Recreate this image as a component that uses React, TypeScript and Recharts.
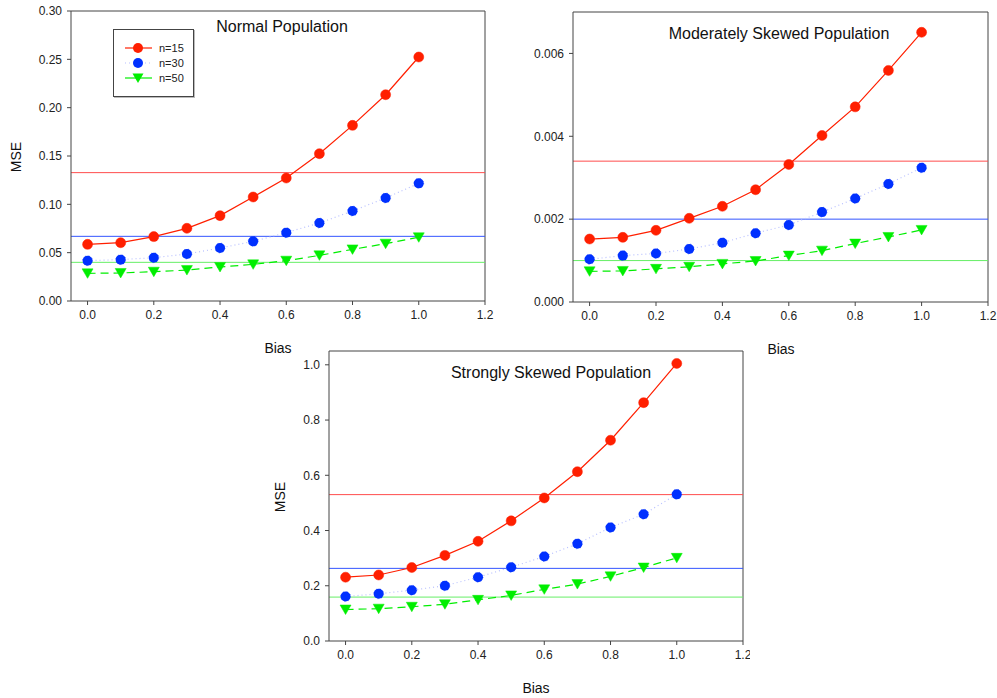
import React from 'react';
import { LineChart, Line, XAxis, YAxis, ReferenceLine } from 'recharts';

const bias = [0, 0.1, 0.2, 0.3, 0.4, 0.5, 0.6, 0.7, 0.8, 0.9, 1.0];
const xTicks = [0, 0.2, 0.4, 0.6, 0.8, 1.0, 1.2];

// Normal population
const normalN15 = [0.0586, 0.0603, 0.0666, 0.0752, 0.0883, 0.1076, 0.1272, 0.1524, 0.1817, 0.2134, 0.2524];
const normalN30 = [0.0417, 0.0428, 0.0448, 0.0486, 0.0548, 0.0617, 0.0707, 0.0807, 0.0931, 0.1066, 0.1217];
const normalN50 = [0.0286, 0.029, 0.0303, 0.032, 0.0352, 0.0379, 0.0417, 0.0472, 0.0534, 0.0593, 0.0659];
const normalRef = [0.1328, 0.0669, 0.04];
const normalTicks = [0, 0.05, 0.1, 0.15, 0.2, 0.25, 0.3];

// Moderately skewed population
const modN15 = [0.00152, 0.00156, 0.00173, 0.00202, 0.00231, 0.00271, 0.00332, 0.00402, 0.00471, 0.00559, 0.00651];
const modN30 = [0.00103, 0.00112, 0.00117, 0.00128, 0.00143, 0.00166, 0.00186, 0.00217, 0.0025, 0.00285, 0.00324];
const modN50 = [0.00074, 0.00075, 0.0008, 0.00085, 0.00092, 0.00099, 0.00112, 0.00124, 0.00141, 0.00157, 0.00174];
const modRef = [0.0034, 0.002, 0.001];
const modTicks = [0, 0.002, 0.004, 0.006];

// Strongly skewed population
const strN15 = [0.231, 0.239, 0.266, 0.31, 0.361, 0.435, 0.518, 0.613, 0.727, 0.863, 1.005];
const strN30 = [0.161, 0.171, 0.184, 0.2, 0.231, 0.267, 0.306, 0.352, 0.411, 0.459, 0.531];
const strN50 = [0.114, 0.117, 0.124, 0.133, 0.149, 0.165, 0.187, 0.206, 0.234, 0.266, 0.301];
const strRef = [0.53, 0.263, 0.159];
const strTicks = [0, 0.2, 0.4, 0.6, 0.8, 1.0];

const seriesNames = ['n=15', 'n=30', 'n=50'];

const RED = '#ff1f00';
const BLUE = '#0030ff';
const GREEN = '#00ee00';
const RED_REF = '#ff4d4d';
const BLUE_REF = '#3355ff';
const GREEN_REF = '#66ee66';
const N30_LINE = '#b8c0ff';
const FRAME = '#444';
const FONT = '"Liberation Sans", Arial, sans-serif';

const build = (a: number[], b: number[], c: number[]) =>
  bias.map((x, i) => ({ bias: x, n15: a[i], n30: b[i], n50: c[i] }));

const Tri = (props: any) => {
  const { cx, cy, index } = props;
  if (cx == null || cy == null) return null;
  return (
    <path
      key={`tri-${index}`}
      d={`M${cx - 5.5},${cy - 4.5} L${cx + 5.5},${cy - 4.5} L${cx},${cy + 5} Z`}
      fill={GREEN}
      stroke={GREEN}
      strokeWidth={0.5}
    />
  );
};

const LegendBox = () => (
  <div
    style={{
      position: 'absolute',
      left: 113,
      top: 29,
      width: 81,
      height: 68,
      border: `1px solid ${FRAME}`,
      boxShadow: '1px 1px 0 #bbb',
      background: '#fff',
      boxSizing: 'border-box',
    }}
  >
    <svg width={80} height={67} style={{ display: 'block' }}>
      <line x1={11} x2={38} y1={18} y2={18} stroke={RED} strokeWidth={1.2} />
      <circle cx={24} cy={18} r={5} fill={RED} />
      <text x={45} y={22} fontSize={11} fontFamily={FONT} fill="#222">{seriesNames[0]}</text>
      <line x1={11} x2={38} y1={33} y2={33} stroke={N30_LINE} strokeWidth={1.2} strokeDasharray="1 3" />
      <circle cx={24} cy={33} r={5} fill={BLUE} />
      <text x={45} y={37} fontSize={11} fontFamily={FONT} fill="#222">{seriesNames[1]}</text>
      <line x1={11} x2={38} y1={48} y2={48} stroke={GREEN} strokeWidth={1.2} />
      <path d={`M18.5,43.5 L29.5,43.5 L24,53 Z`} fill={GREEN} />
      <text x={45} y={52} fontSize={11} fontFamily={FONT} fill="#222">{seriesNames[2]}</text>
    </svg>
  </div>
);

type PanelProps = {
  data: any[];
  refs: number[];
  yTicks: number[];
  yMax: number;
  digits: number;
  width: number;
  height: number;
  margin: { top: number; right: number; left: number; bottom: number };
  yAxisWidth: number;
  xAxisHeight: number;
};

const tickStyle = { fontSize: 12, fill: '#222', fontFamily: FONT };

const Panel = (p: PanelProps) => (
  <LineChart width={p.width} height={p.height} data={p.data} margin={p.margin}>
    <XAxis
      dataKey="bias"
      type="number"
      domain={[-0.05, 1.2]}
      ticks={xTicks}
      tickFormatter={(v: number) => v.toFixed(1)}
      tickSize={4}
      tickMargin={5}
      height={p.xAxisHeight}
      stroke={FRAME}
      tick={tickStyle}
      tickLine={{ stroke: FRAME }}
      axisLine={{ stroke: FRAME }}
      interval={0}
    />
    <YAxis
      type="number"
      domain={[0, p.yMax]}
      ticks={p.yTicks}
      tickFormatter={(v: number) => v.toFixed(p.digits)}
      tickSize={4}
      tickMargin={5}
      width={p.yAxisWidth}
      stroke={FRAME}
      tick={tickStyle}
      tickLine={{ stroke: FRAME }}
      axisLine={{ stroke: FRAME }}
      allowDataOverflow
      interval={0}
    />
    <ReferenceLine y={p.yMax} stroke={FRAME} strokeWidth={1} />
    <ReferenceLine x={1.2} stroke={FRAME} strokeWidth={1} />
    <ReferenceLine y={p.refs[0]} stroke={RED_REF} strokeWidth={1} />
    <ReferenceLine y={p.refs[1]} stroke={BLUE_REF} strokeWidth={1} />
    <ReferenceLine y={p.refs[2]} stroke={GREEN_REF} strokeWidth={1} />
    <Line
      dataKey="n30"
      name={seriesNames[1]}
      stroke={N30_LINE}
      strokeWidth={1.2}
      strokeDasharray="1 3"
      dot={{ r: 5, fill: BLUE, stroke: BLUE, strokeWidth: 0.5 }}
      isAnimationActive={false}
    />
    <Line
      dataKey="n50"
      name={seriesNames[2]}
      stroke={GREEN}
      strokeWidth={1.2}
      strokeDasharray="8 5"
      dot={Tri}
      isAnimationActive={false}
    />
    <Line
      dataKey="n15"
      name={seriesNames[0]}
      stroke={RED}
      strokeWidth={1.2}
      dot={{ r: 5, fill: RED, stroke: RED, strokeWidth: 0.5 }}
      isAnimationActive={false}
    />
  </LineChart>
);

const txt = (extra: React.CSSProperties): React.CSSProperties => ({
  position: 'absolute',
  fontFamily: FONT,
  color: '#111',
  whiteSpace: 'nowrap',
  lineHeight: 1,
  ...extra,
});

export default function App() {
  return (
    <div style={{ position: 'absolute', left: 0, top: 0, width: 997, height: 698, background: '#fff', overflow: 'hidden' }}>
      <div style={{ position: 'absolute', left: 0, top: 0 }}>
        <Panel
          data={build(normalN15, normalN30, normalN50)}
          refs={normalRef}
          yTicks={normalTicks}
          yMax={0.3}
          digits={2}
          width={500}
          height={340}
          margin={{ top: 11, right: 15, left: 0, bottom: 0 }}
          yAxisWidth={71}
          xAxisHeight={39}
        />
      </div>
      <LegendBox />
      <div style={{ position: 'absolute', left: 500, top: 0 }}>
        <Panel
          data={build(modN15, modN30, modN50)}
          refs={modRef}
          yTicks={modTicks}
          yMax={0.007}
          digits={3}
          width={497}
          height={340}
          margin={{ top: 12, right: 9, left: 0, bottom: 0 }}
          yAxisWidth={73}
          xAxisHeight={38}
        />
      </div>
      <div style={{ position: 'absolute', left: 250, top: 340 }}>
        <Panel
          data={build(strN15, strN30, strN50)}
          refs={strRef}
          yTicks={strTicks}
          yMax={1.05}
          digits={1}
          width={500}
          height={358}
          margin={{ top: 11, right: 7, left: 0, bottom: 0 }}
          yAxisWidth={79}
          xAxisHeight={57}
        />
      </div>

      <div style={txt({ left: 282, top: 27, fontSize: 16, transform: 'translate(-50%, -50%)' })}>Normal Population</div>
      <div style={txt({ left: 779, top: 34, fontSize: 16, transform: 'translate(-50%, -50%)' })}>Moderately Skewed Population</div>
      <div style={txt({ left: 551, top: 373, fontSize: 16, transform: 'translate(-50%, -50%)' })}>Strongly Skewed Population</div>

      <div style={txt({ left: 16, top: 157, fontSize: 14, transform: 'translate(-50%, -50%) rotate(-90deg)' })}>MSE</div>
      <div style={txt({ left: 280, top: 497, fontSize: 14, transform: 'translate(-50%, -50%) rotate(-90deg)' })}>MSE</div>

      <div style={txt({ left: 278, top: 348, fontSize: 14, transform: 'translate(-50%, -50%)' })}>Bias</div>
      <div style={txt({ left: 781, top: 349, fontSize: 14, transform: 'translate(-50%, -50%)' })}>Bias</div>
      <div style={txt({ left: 536, top: 688, fontSize: 14, transform: 'translate(-50%, -50%)' })}>Bias</div>
    </div>
  );
}
